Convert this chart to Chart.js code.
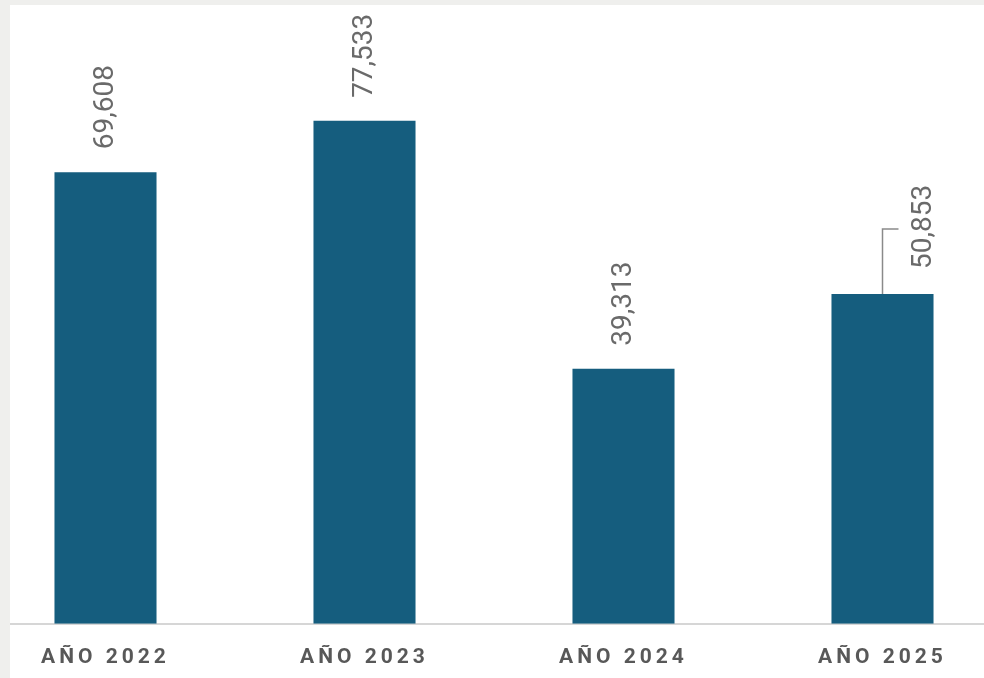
<!DOCTYPE html>
<html>
<head>
<meta charset="utf-8">
<script src="https://cdn.jsdelivr.net/npm/chart.js@4"></script>
<style>
  html, body { margin: 0; padding: 0; background: #ffffff; overflow: hidden; }
  body { width: 984px; height: 678px; position: relative; }
  #wrap { position: absolute; left: -24px; top: 0; width: 1036px; height: 698px; }
  .edge { position: absolute; background: #efefed; z-index: 2; }
</style>
</head>
<body>
<div id="wrap"><canvas id="barChart"></canvas></div>
<div class="edge" style="left:0;top:0;width:10px;height:678px"></div>
<div class="edge" style="left:0;top:0;width:984px;height:5px"></div>
<script>
// datos
const years = ['AÑO 2022', 'AÑO 2023', 'AÑO 2024', 'AÑO 2025'];
const totals = [69608, 77533, 39313, 50853];

const BAR_COLOR = '#155d7e';
const LABEL_COLOR = '#6a6a6a';

// etiquetas de valor giradas (la ultima con linea guia)
const valueLabels = {
    id: 'valueLabels',
    beforeDraw(chart) {
        chart.ctx.letterSpacing = '4px';
    },
    beforeDatasetsDraw(chart) {
        chart.ctx.letterSpacing = '0px';
    },
    afterDatasetsDraw(chart) {
        const ctx = chart.ctx;
        const meta = chart.getDatasetMeta(0);
        ctx.save();
        ctx.letterSpacing = '0px';
        ctx.font = '28px Roboto';
        ctx.fillStyle = LABEL_COLOR;
        ctx.textAlign = 'left';
        ctx.textBaseline = 'middle';
        meta.data.forEach((bar, i) => {
            const text = totals[i].toLocaleString('en-US');
            let x = bar.x;
            let y = bar.y - 23;
            if (i === 3) {
                // linea guia
                x = bar.x + 41;
                y = bar.y - 25;
                ctx.strokeStyle = '#8a8a8a';
                ctx.lineWidth = 1.5;
                ctx.beginPath();
                ctx.moveTo(bar.x, bar.y);
                ctx.lineTo(bar.x, bar.y - 65);
                ctx.lineTo(bar.x + 16, bar.y - 65);
                ctx.stroke();
            }
            ctx.save();
            ctx.translate(x, y);
            ctx.rotate(-Math.PI / 2);
            ctx.fillText(text, 0, 0);
            ctx.restore();
        });
        ctx.restore();
    }
};

new Chart(document.getElementById('barChart'), {
    type: 'bar',
    data: {
        labels: years,
        datasets: [{
            data: totals,
            backgroundColor: BAR_COLOR,
            borderWidth: 0,
            barPercentage: 0.394,
            categoryPercentage: 1
        }]
    },
    options: {
        responsive: true,
        maintainAspectRatio: false,
        animation: false,
        layout: { padding: { top: 40, bottom: 15, left: 0, right: 0 } },
        plugins: {
            legend: { display: false },
            tooltip: { enabled: false }
        },
        scales: {
            x: {
                grid: { display: false },
                border: { display: true, color: '#d6d6d6', width: 2 },
                ticks: {
                    color: '#585858',
                    padding: 13,
                    font: { family: 'Roboto', size: 21, weight: 'bold' }
                }
            },
            y: {
                display: false,
                min: 0,
                max: 90000
            }
        }
    },
    plugins: [valueLabels]
});
</script>
</body>
</html>
